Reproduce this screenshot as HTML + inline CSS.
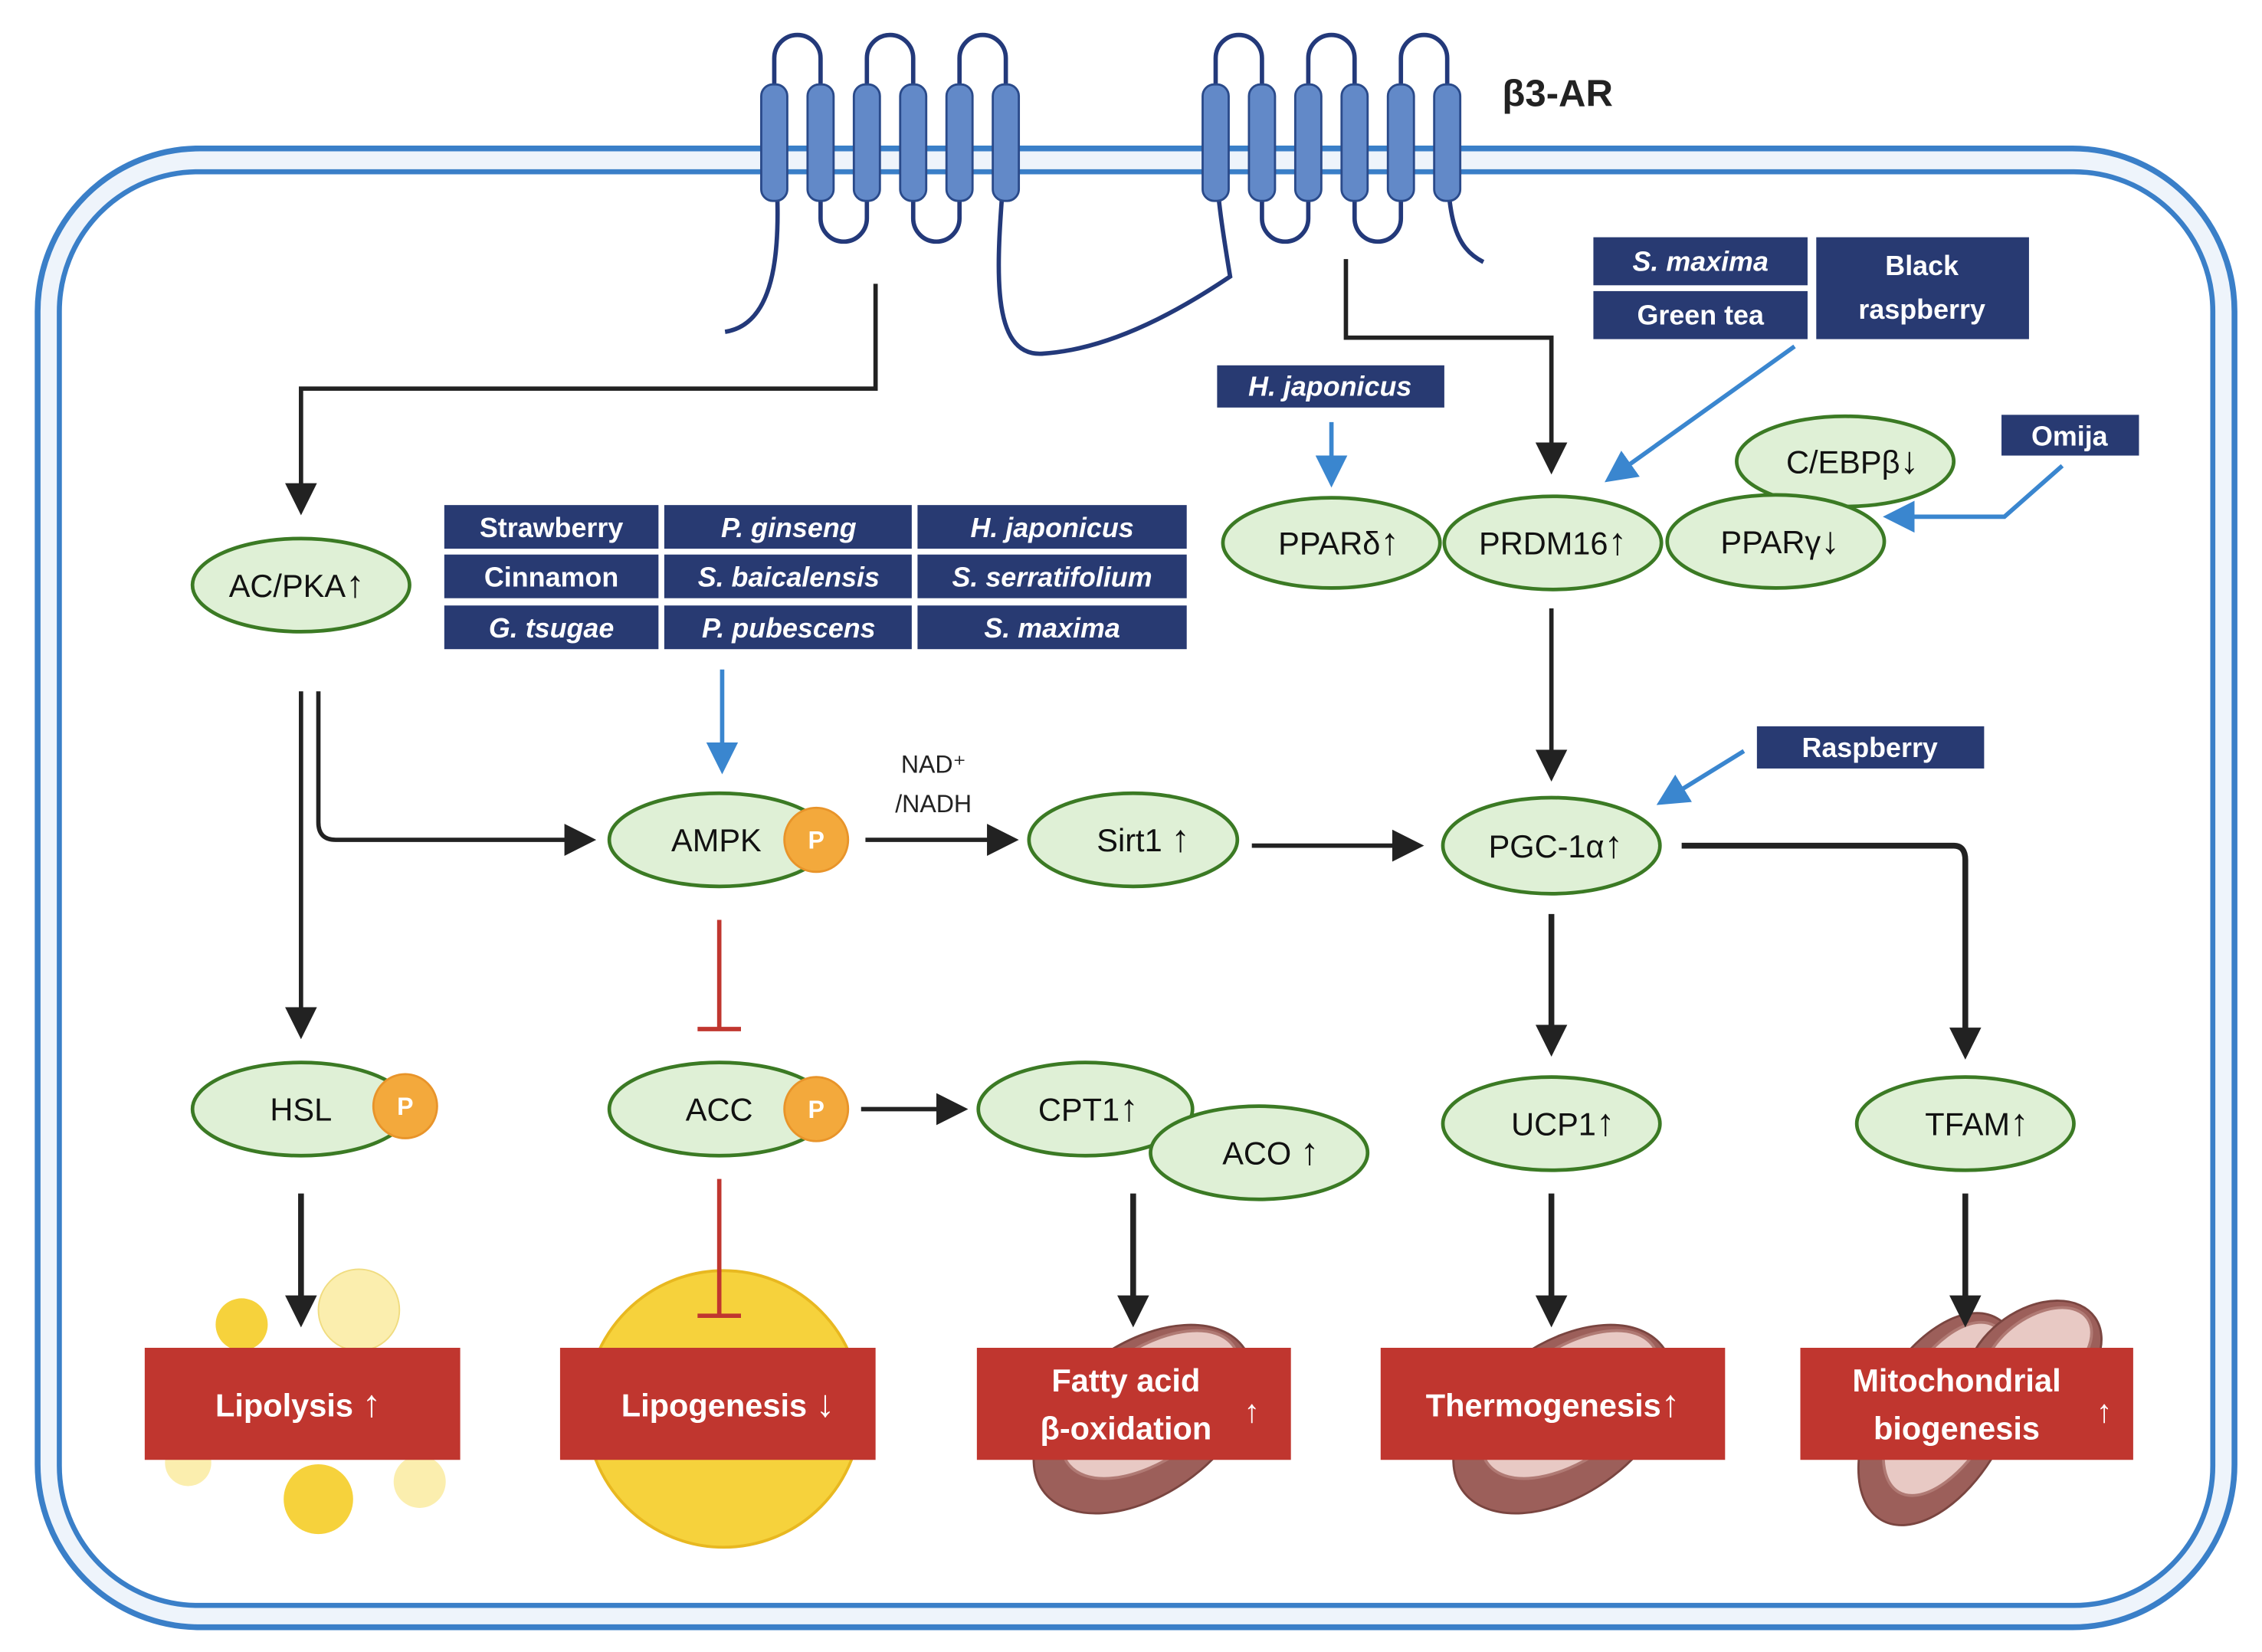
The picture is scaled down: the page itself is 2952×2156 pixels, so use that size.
<!DOCTYPE html>
<html><head><meta charset="utf-8"><style>
html,body{margin:0;padding:0;background:#fff}
svg{display:block}
text{font-family:"Liberation Sans",sans-serif}
.n{fill:#dff0d6;stroke:#3b7a24;stroke-width:2.5}
.nt{font-size:22px;fill:#111;text-anchor:middle}
.ar{font-size:26px;font-weight:bold}
.bx{fill:#283a72}
.bt{font-size:19px;font-weight:bold;fill:#fff;text-anchor:middle}
.it{font-style:italic}
.rb{fill:#c0362f}
.rt{font-size:22px;font-weight:bold;fill:#fff;text-anchor:middle}
.k{stroke:#222;stroke-width:3;fill:none}
.kt{stroke:#222;stroke-width:4;fill:none}
.bl{stroke:#3a86cf;stroke-width:3;fill:none}
.hx{fill:#6289c8;stroke:#2a4a8a;stroke-width:1.5}
.lp{stroke:#23397a;stroke-width:3;fill:none}
.P{fill:#f3a93c;stroke:#e8942a;stroke-width:1.5}
.pt{font-size:17px;font-weight:bold;fill:#fff;text-anchor:middle}
.mi{fill:#9c5f5a;stroke:#7a4540;stroke-width:1.5}
.mi2{fill:#e8c9c4;stroke:#b07a74;stroke-width:2}
</style></head><body>
<svg width="2952" height="2156" viewBox="0 0 1563 1135" preserveAspectRatio="none" xmlns="http://www.w3.org/2000/svg">
<defs>
<marker id="akb" markerWidth="22" markerHeight="22" refX="18" refY="11" orient="auto" markerUnits="userSpaceOnUse" viewBox="0 0 22 22"><path d="M0,0L22,11L0,22z" fill="#222"/></marker>
<marker id="ab" markerWidth="22" markerHeight="22" refX="18" refY="11" orient="auto" markerUnits="userSpaceOnUse" viewBox="0 0 22 22"><path d="M0,0L22,11L0,22z" fill="#3a86cf"/></marker>
</defs>
<!-- membrane -->
<rect x="26" y="102" width="1518" height="1016" rx="112" fill="#eef4fb" stroke="#3a7fc8" stroke-width="4"/>
<rect x="41" y="118" width="1488" height="985" rx="96" fill="#fff" stroke="#3a7fc8" stroke-width="3.5"/>
<!-- receptor tails and loops -->
<path class="lp" d="M535,100 C540,160 540,222 501,228"/>
<path class="lp" d="M695,100 C690,170 680,245 720,243 C770,240 820,210 850,190 C845,160 840,130 840,100"/>
<path class="lp" d="M1000,100 C1000,150 1005,170 1025,180"/>
<path class="lp" d="M535,70 V40 a16,16 0 0 1 32,0 V70"/>
<path class="lp" d="M599,70 V40 a16,16 0 0 1 32,0 V70"/>
<path class="lp" d="M663,70 V40 a16,16 0 0 1 32,0 V70"/>
<path class="lp" d="M567,130 V150 a16,16 0 0 0 32,0 V130"/>
<path class="lp" d="M631,130 V150 a16,16 0 0 0 32,0 V130"/>
<path class="lp" d="M840,70 V40 a16,16 0 0 1 32,0 V70"/>
<path class="lp" d="M904,70 V40 a16,16 0 0 1 32,0 V70"/>
<path class="lp" d="M968,70 V40 a16,16 0 0 1 32,0 V70"/>
<path class="lp" d="M872,130 V150 a16,16 0 0 0 32,0 V130"/>
<path class="lp" d="M936,130 V150 a16,16 0 0 0 32,0 V130"/>
<g>
<rect class="hx" x="526" y="58" width="18" height="80" rx="8"/>
<rect class="hx" x="558" y="58" width="18" height="80" rx="8"/>
<rect class="hx" x="590" y="58" width="18" height="80" rx="8"/>
<rect class="hx" x="622" y="58" width="18" height="80" rx="8"/>
<rect class="hx" x="654" y="58" width="18" height="80" rx="8"/>
<rect class="hx" x="686" y="58" width="18" height="80" rx="8"/>
<rect class="hx" x="831" y="58" width="18" height="80" rx="8"/>
<rect class="hx" x="863" y="58" width="18" height="80" rx="8"/>
<rect class="hx" x="895" y="58" width="18" height="80" rx="8"/>
<rect class="hx" x="927" y="58" width="18" height="80" rx="8"/>
<rect class="hx" x="959" y="58" width="18" height="80" rx="8"/>
<rect class="hx" x="991" y="58" width="18" height="80" rx="8"/>
</g>
<text x="1038" y="73" font-size="26" font-weight="bold" fill="#222">β3-AR</text>

<!-- decorations -->
<circle cx="500" cy="968" r="95" fill="#f6d23c" stroke="#e8b820" stroke-width="2"/>
<circle cx="248" cy="900" r="28" fill="#fbeeae" stroke="#f0dc80"/>
<circle cx="167" cy="910" r="18" fill="#f6d23c"/>
<circle cx="220" cy="1030" r="24" fill="#f6d23c"/>
<circle cx="290" cy="1018" r="18" fill="#fbeeae"/>
<circle cx="130" cy="1005" r="16" fill="#fbeeae"/>
<ellipse class="mi" cx="790" cy="975" rx="85" ry="52" transform="rotate(-35 790 975)"/>
<ellipse class="mi2" cx="795" cy="965" rx="70" ry="38" transform="rotate(-35 795 965)"/>
<ellipse class="mi" cx="1080" cy="975" rx="85" ry="52" transform="rotate(-35 1080 975)"/>
<ellipse class="mi2" cx="1085" cy="965" rx="70" ry="38" transform="rotate(-35 1085 965)"/>
<ellipse class="mi" cx="1340" cy="975" rx="80" ry="45" transform="rotate(-60 1340 975)"/>
<ellipse class="mi2" cx="1345" cy="968" rx="66" ry="33" transform="rotate(-60 1345 968)"/>
<ellipse class="mi" cx="1405" cy="935" rx="52" ry="35" transform="rotate(-35 1405 935)"/>
<ellipse class="mi2" cx="1408" cy="930" rx="42" ry="25" transform="rotate(-35 1408 930)"/>

<!-- black connectors -->
<path class="k" d="M605,195 V267 H208 V350" marker-end="url(#akb)"/>
<path class="k" d="M930,178 V232 H1072 V322" marker-end="url(#akb)"/>
<path class="k" d="M208,475 V710" marker-end="url(#akb)"/>
<path class="k" d="M220,475 V565 Q220,577 232,577 H408" marker-end="url(#akb)"/>
<path class="k" d="M598,577 H700" marker-end="url(#akb)"/>
<path class="k" d="M865,581 H980" marker-end="url(#akb)"/>
<path class="k" d="M1072,418 V533" marker-end="url(#akb)"/>
<path class="kt" d="M1072,628 V722" marker-end="url(#akb)"/>
<path class="kt" d="M1162,581 H1350 Q1358,581 1358,591 V724" marker-end="url(#akb)"/>
<path class="k" d="M595,762 H665" marker-end="url(#akb)"/>
<path class="kt" d="M208,820 V908" marker-end="url(#akb)"/>
<path class="kt" d="M783,820 V908" marker-end="url(#akb)"/>
<path class="kt" d="M1072,820 V908" marker-end="url(#akb)"/>
<path class="kt" d="M1358,820 V908" marker-end="url(#akb)"/>
<path d="M497,632 V707 M482,707 H512 M497,810 V904 M482,904 H512" stroke="#c0362f" stroke-width="3" fill="none"/>
<text x="645" y="531" font-size="17" fill="#222" text-anchor="middle">NAD⁺</text>
<text x="645" y="558" font-size="17" fill="#222" text-anchor="middle">/NADH</text>

<!-- blue connectors -->
<path class="bl" d="M499,460 V528" marker-end="url(#ab)"/>
<path class="bl" d="M920,290 V331" marker-end="url(#ab)"/>
<path class="bl" d="M1240,238 L1112,329" marker-end="url(#ab)"/>
<path class="bl" d="M1425,320 L1385,355 H1305" marker-end="url(#ab)"/>
<path class="bl" d="M1205,516 L1148,551" marker-end="url(#ab)"/>

<!-- nodes -->
<ellipse class="n" cx="208" cy="402" rx="75" ry="32"/><text class="nt" x="205" y="410">AC/PKA<tspan class="ar">↑</tspan></text>
<ellipse class="n" cx="497" cy="577" rx="76" ry="32"/><text class="nt" x="495" y="585">AMPK</text>
<circle class="P" cx="564" cy="577" r="22"/><text class="pt" x="564" y="583">P</text>
<ellipse class="n" cx="783" cy="577" rx="72" ry="32"/><text class="nt" x="790" y="585">Sirt1 <tspan class="ar">↑</tspan></text>
<ellipse class="n" cx="1072" cy="581" rx="75" ry="33"/><text class="nt" x="1075" y="589">PGC-1α<tspan class="ar">↑</tspan></text>
<ellipse class="n" cx="920" cy="373" rx="75" ry="31"/><text class="nt" x="925" y="381">PPARδ<tspan class="ar">↑</tspan></text>
<ellipse class="n" cx="1275" cy="317" rx="75" ry="31"/><text class="nt" x="1280" y="325">C/EBPβ<tspan class="ar">↓</tspan></text>
<ellipse class="n" cx="1073" cy="373" rx="75" ry="32"/><text class="nt" x="1073" y="381">PRDM16<tspan class="ar">↑</tspan></text>
<ellipse class="n" cx="1227" cy="372" rx="75" ry="32"/><text class="nt" x="1230" y="380">PPARγ<tspan class="ar">↓</tspan></text>
<ellipse class="n" cx="208" cy="762" rx="75" ry="32"/><text class="nt" x="208" y="770">HSL</text>
<circle class="P" cx="280" cy="760" r="22"/><text class="pt" x="280" y="766">P</text>
<ellipse class="n" cx="497" cy="762" rx="76" ry="32"/><text class="nt" x="497" y="770">ACC</text>
<circle class="P" cx="564" cy="762" r="22"/><text class="pt" x="564" y="768">P</text>
<ellipse class="n" cx="750" cy="762" rx="74" ry="32"/><text class="nt" x="752" y="770">CPT1<tspan class="ar">↑</tspan></text>
<ellipse class="n" cx="870" cy="792" rx="75" ry="32"/><text class="nt" x="878" y="800">ACO <tspan class="ar">↑</tspan></text>
<ellipse class="n" cx="1072" cy="772" rx="75" ry="32"/><text class="nt" x="1080" y="780">UCP1<tspan class="ar">↑</tspan></text>
<ellipse class="n" cx="1358" cy="772" rx="75" ry="32"/><text class="nt" x="1366" y="780">TFAM<tspan class="ar">↑</tspan></text>

<!-- navy labels -->
<rect class="bx" x="307" y="347" width="148" height="30"/><text class="bt" x="381" y="369">Strawberry</text>
<rect class="bx" x="459" y="347" width="171" height="30"/><text class="bt it" x="545" y="369">P. ginseng</text>
<rect class="bx" x="634" y="347" width="186" height="30"/><text class="bt it" x="727" y="369">H. japonicus</text>
<rect class="bx" x="307" y="381" width="148" height="30"/><text class="bt" x="381" y="403">Cinnamon</text>
<rect class="bx" x="459" y="381" width="171" height="30"/><text class="bt it" x="545" y="403">S. baicalensis</text>
<rect class="bx" x="634" y="381" width="186" height="30"/><text class="bt it" x="727" y="403">S. serratifolium</text>
<rect class="bx" x="307" y="416" width="148" height="30"/><text class="bt it" x="381" y="438">G. tsugae</text>
<rect class="bx" x="459" y="416" width="171" height="30"/><text class="bt it" x="545" y="438">P. pubescens</text>
<rect class="bx" x="634" y="416" width="186" height="30"/><text class="bt it" x="727" y="438">S. maxima</text>
<rect class="bx" x="1101" y="163" width="148" height="33"/><text class="bt it" x="1175" y="186">S. maxima</text>
<rect class="bx" x="1101" y="200" width="148" height="33"/><text class="bt" x="1175" y="223">Green tea</text>
<rect class="bx" x="1255" y="163" width="147" height="70"/><text class="bt" x="1328" y="189">Black</text><text class="bt" x="1328" y="219">raspberry</text>
<rect class="bx" x="841" y="251" width="157" height="29"/><text class="bt it" x="919" y="272">H. japonicus</text>
<rect class="bx" x="1383" y="285" width="95" height="28"/><text class="bt" x="1430" y="306">Omija</text>
<rect class="bx" x="1214" y="499" width="157" height="29"/><text class="bt" x="1292" y="520">Raspberry</text>

<!-- red outcome boxes -->
<rect class="rb" x="100" y="926" width="218" height="77"/><text class="rt" x="206" y="973">Lipolysis <tspan class="ar">↑</tspan></text>
<rect class="rb" x="387" y="926" width="218" height="77"/><text class="rt" x="503" y="973">Lipogenesis <tspan class="ar">↓</tspan></text>
<rect class="rb" x="675" y="926" width="217" height="77"/><text class="rt" x="778" y="956">Fatty acid</text><text class="rt" x="778" y="989">β-oxidation</text><text class="rt ar" x="865" y="977">↑</text>
<rect class="rb" x="954" y="926" width="238" height="77"/><text class="rt" x="1073" y="973">Thermogenesis<tspan class="ar">↑</tspan></text>
<rect class="rb" x="1244" y="926" width="230" height="77"/><text class="rt" x="1352" y="956">Mitochondrial</text><text class="rt" x="1352" y="989">biogenesis</text><text class="rt ar" x="1454" y="977">↑</text>
</svg>
</body></html>
